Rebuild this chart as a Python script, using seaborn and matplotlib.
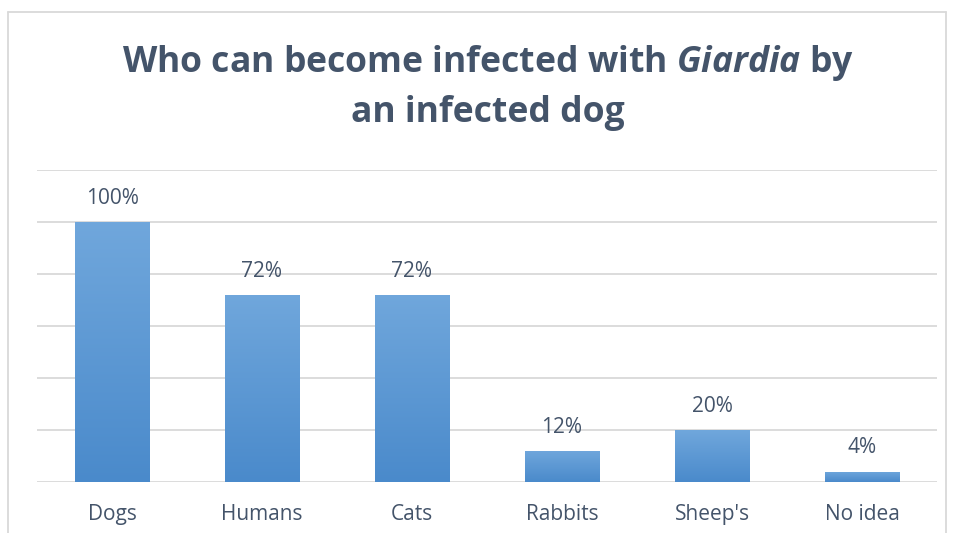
import numpy as np
import pandas as pd
import matplotlib
matplotlib.use("Agg")
import matplotlib.pyplot as plt
import seaborn as sns
from matplotlib.lines import Line2D
from matplotlib.colors import LinearSegmentedColormap

categories = ["Dogs", "Humans", "Cats", "Rabbits", "Sheep's", "No idea"]
values = [100, 72, 72, 12, 20, 4]
value_labels = ["100%", "72%", "72%", "12%", "20%", "4%"]

sns.set_theme(style="white")
plt.rcParams['font.family'] = ['Open Sans', 'DejaVu Sans']
plt.rcParams['mathtext.fontset'] = 'custom'
plt.rcParams['mathtext.it'] = 'Open Sans:italic:bold'
plt.rcParams['mathtext.rm'] = 'Open Sans:bold'
plt.rcParams['mathtext.bf'] = 'Open Sans:bold'

TXT = "#44546A"
GRID = "#D9D9D9"

fig = plt.figure(figsize=(9.55, 5.33), dpi=100)
ax = fig.add_axes([37/955, (533-482)/533, 900/955, (482-170)/533])

df = pd.DataFrame({"cat": categories, "val": values})
sns.barplot(data=df, x="cat", y="val", color="#5B9BD5", width=0.5, ax=ax,
            saturation=1, edgecolor="none")

cmap = LinearSegmentedColormap.from_list("g", ["#4A8ACB", "#70A7DC"])
grad = np.linspace(0, 1, 256).reshape(-1, 1)
for p in ax.patches:
    x0, y0 = p.get_x(), p.get_y()
    w, h = p.get_width(), p.get_height()
    p.set_facecolor("none")
    im = ax.imshow(grad, cmap=cmap, origin="lower", aspect="auto",
                   extent=[x0, x0 + w, y0, y0 + h], zorder=2)
    im.set_clip_path(p)

ax.set_xlim(-0.5, 5.5)
ax.set_ylim(0, 120)
ax.set_yticks(np.arange(0, 121, 20))
ax.set_yticklabels([])
ax.tick_params(axis="y", length=0)
ax.tick_params(axis="x", length=0, pad=16, labelsize=15, labelcolor=TXT)
ax.grid(axis="y", color=GRID, linewidth=1.3, zorder=0)
ax.set_axisbelow(True)
for s in ax.spines.values():
    s.set_visible(False)
ax.set_xlabel("")
ax.set_ylabel("")

for i, (v, lab) in enumerate(zip(values, value_labels)):
    ax.annotate(lab, (i, v), xytext=(0, 17), textcoords="offset points",
                ha="center", va="center", fontsize=15, color=TXT)

fig.text(0.511, 1 - 63/533, r"Who can become infected with $\it{Giardia}$ by",
         ha="center", va="center", fontsize=25.6, fontweight="bold", color=TXT)
fig.text(0.511, 1 - 113/533, "an infected dog",
         ha="center", va="center", fontsize=25.6, fontweight="bold", color=TXT)

fig.add_artist(Line2D([8/955, 8/955], [0, 1 - 12/533], transform=fig.transFigure,
                      color=GRID, linewidth=1.3))
fig.add_artist(Line2D([8/955, 946/955], [1 - 12/533, 1 - 12/533], transform=fig.transFigure,
                      color=GRID, linewidth=1.3))
fig.add_artist(Line2D([946/955, 946/955], [0, 1 - 12/533], transform=fig.transFigure,
                      color=GRID, linewidth=1.3))

fig.savefig("out.png", dpi=100, facecolor="white")
